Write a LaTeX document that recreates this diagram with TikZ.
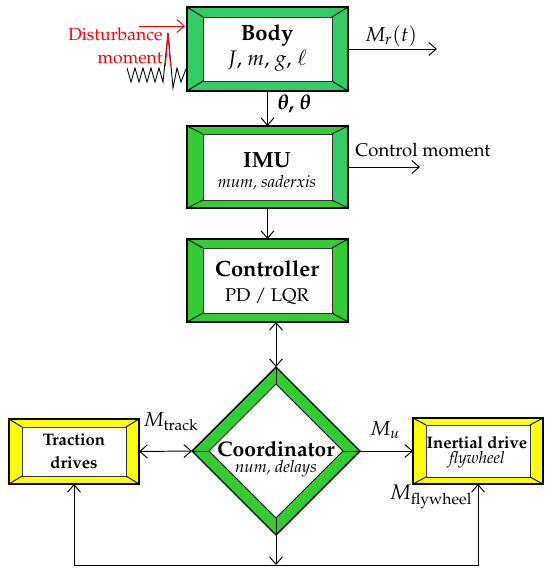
\documentclass[tikz,border=0pt]{standalone}
\usepackage[T1]{fontenc}
\usepackage{mathpazo}
\usepackage{bm}
\usetikzlibrary{arrows.meta,shapes.geometric,fit}
\definecolor{gA}{RGB}{51,204,51}
\definecolor{gB}{RGB}{51,204,102}
\definecolor{yel}{RGB}{255,255,0}
\definecolor{dred}{RGB}{255,0,0}
% #1 name, #2 x1, #3 y1, #4 x2, #5 y2, #6 dx, #7 dy ; colours from \tbc \lc \rc
\newcommand\bevbox[7]{%
  \fill[\tbc] (#2,#3) rectangle (#4,#5);
  \fill[\lc] (#2,#3) -- (#2+#6,#3+#7) -- (#2+#6,#5-#7) -- (#2,#5) -- cycle;
  \fill[\rc] (#4,#3) -- (#4-#6,#3+#7) -- (#4-#6,#5-#7) -- (#4,#5) -- cycle;
  \draw[innerframe] (#2+#6,#3+#7) rectangle (#4-#6,#5-#7);
  \draw[diagline] (#2,#3) -- (#2+#6,#3+#7) (#4,#3) -- (#4-#6,#3+#7)
                  (#2,#5) -- (#2+#6,#5-#7) (#4,#5) -- (#4-#6,#5-#7);
  \node[fit={(#2,#3) (#4,#5)}, inner sep=0pt, outer sep=0pt, outerframe] (#1) {};
}
\begin{document}
\begin{tikzpicture}[x=0.02cm,y=-0.02cm,
  arr/.style={-{Straight Barb[length=1.5mm,width=2.6mm]}, line width=0.55pt},
  darr/.style={{Straight Barb[length=1.5mm,width=2.6mm]}-{Straight Barb[length=1.5mm,width=2.6mm]}, line width=0.55pt},
  innerframe/.style={fill=white, draw=black!80, line width=0.5pt},
  diagline/.style={draw=black, line width=0.5pt},
  outerframe/.style={draw=black, line width=0.8pt},
  ttl/.style={font=\fontsize{12.5}{14}\selectfont\bfseries, inner sep=0pt},
  smallttl/.style={font=\fontsize{9.5}{13}\selectfont\bfseries, inner sep=0pt, align=center},
  sub/.style={font=\fontsize{9.5}{11}\selectfont\itshape, inner sep=0pt},
  lbl/.style={font=\fontsize{10.5}{12}\selectfont, inner sep=0pt},
  spring/.style={draw=black, line width=0.5pt, line join=miter}
]
\useasboundingbox (0,0) rectangle (550,575);

% spring and disturbance
\draw[spring] (127,68) -- (131,82) -- (135,68) -- (139,82) -- (143,68) -- (147,82)
  -- (151,68) -- (155,82) -- (159,68) -- (163,82) -- (168,33) -- (173,88)
  -- (177,68) -- (181,82) -- (186,69);
\draw[draw=dred, line width=0.6pt] (165.3,66) -- (168,33) -- (170.6,66);
\node[font=\fontsize{10}{13}\selectfont, text=dred, align=right, anchor=east, inner sep=0pt] (dist) at (163,46) {Disturbance\\moment};
\coordinate (dstart) at (139,26);
\coordinate (dend) at (185,26);
\draw[arr, draw=dred] (dstart) -- (dend);

% boxes
\def\tbc{gB}\def\lc{gB}\def\rc{gB}
\bevbox{body}{187}{7}{348}{91}{16}{10}
\def\tbc{gA}\def\lc{gA}\def\rc{gB}
\bevbox{imu}{187}{126}{348}{208}{16}{8}
\def\tbc{gA}\def\lc{gA}\def\rc{gA}
\bevbox{ctrl}{187}{239}{348}{322}{16}{9}
\def\tbc{yel}\def\lc{yel}\def\rc{yel}
\bevbox{trac}{9}{419}{139}{484}{13}{8}
\bevbox{inert}{413}{418}{543}{484}{13}{7}

% diamond
\node[diamond, shape aspect=1, minimum width=3.36cm, minimum height=3.36cm, inner sep=0pt, outer sep=0pt] (coord) at (276,451) {};
\fill[gA] (276,367) -- (360,451) -- (276,535) -- (192,451) -- cycle;
\filldraw[fill=white, draw=black, line width=0.5pt] (276,384) -- (343,451) -- (276,518) -- (209,451) -- cycle;
\draw[outerframe] (276,367) -- (360,451) -- (276,535) -- (192,451) -- cycle;
\draw[diagline] (276,367) -- (276,384) (360,451) -- (343,451)
  (276,535) -- (276,518) (192,451) -- (209,451);

% texts
\node[ttl] (bodyt) at (267,35) {Body};
\node[font=\fontsize{12}{14}\selectfont, inner sep=0pt] (bodys) at (267,61) {$J$, $m$, $g$, $\ell$};
\node[ttl] (imut) at (267,160) {IMU};
\node[sub] (imus) at (267,183) {mum, saderxis};
\node[ttl] (ctrlt) at (267,269) {Controller};
\node[lbl] (ctrls) at (267,297) {PD / LQR};
\node[font=\fontsize{12}{14}\selectfont\bfseries, inner sep=0pt] (coordt) at (276,449) {Coordinator};
\node[sub] (coords) at (276,469) {num, delays};
\node[smallttl] (tract) at (74,451) {Traction\\drives};
\node[smallttl] (inertt) at (477,443) {Inertial drive};
\node[sub] (inerts) at (477,460) {flywheel};

% connectors
\coordinate (mr) at (437,49);
\draw[arr] (body.east) -- (mr);
\node[font=\fontsize{11.5}{13}\selectfont, inner sep=0pt] (mrl) at (391,36) {$M_r(t)$};
\draw[arr] (body.south) -- (imu.north);
\node[font=\fontsize{12}{14}\selectfont, anchor=west, inner sep=0pt] (thl) at (277,104) {$\bm{\theta}$\textbf{,} $\bm{\theta}$};
\coordinate (cm) at (420,167);
\draw[arr] (imu.east) -- (cm);
\node[lbl, anchor=west] (cml) at (355,150) {Control moment};
\draw[arr] (imu.south) -- (ctrl.north);
\draw[darr] (coord.north) -- (coord.north |- ctrl.south);
\draw[darr] (trac.east) -- (coord.west);
\node[font=\fontsize{11.5}{13}\selectfont, anchor=west, inner sep=0pt] (mtl) at (143,422) {$M_{\mathrm{track}}$};
\draw[arr] (coord.east) -- (inert.west);
\node[font=\fontsize{11.5}{13}\selectfont, inner sep=0pt] (mul) at (385,430) {$M_u$};
\coordinate (bot) at (276,565);
\draw[arr] (coord.south) -- (bot);
\draw[arr] (bot) -| (trac.south);
\draw[arr] (bot) -| (inert.south);
\node[font=\fontsize{12}{13}\selectfont, inner sep=0pt] (mfl) at (431,497) {$M_{\mathrm{flywheel}}$};
\end{tikzpicture}
\end{document}
